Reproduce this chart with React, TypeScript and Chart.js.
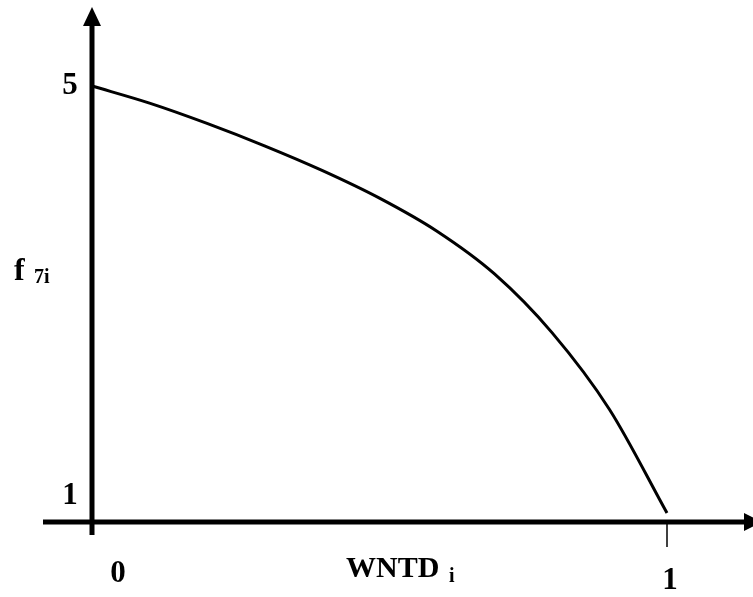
import React, { useEffect, useRef } from "react";
import { Chart, registerables } from "chart.js";

Chart.register(...registerables);

// Data
const wntd: number[] = [0, 0.1, 0.2, 0.3, 0.4, 0.5, 0.6, 0.7, 0.8, 0.9, 1];
const f7i: number[] = [5, 4.84, 4.65, 4.44, 4.21, 3.95, 3.64, 3.24, 2.69, 1.97, 1];
const xTickLabels: string[] = ["0", "1"];
const xTickValues: number[] = [0, 1];
const yTickLabels: string[] = ["5", "1"];
const yTickValues: number[] = [5, 1];
const xTitle = "WNTD";
const xTitleSub = "i";
const yTitle = "f";
const yTitleSub = "7i";

const Y_MIN = 0.916;
const Y_MAX = 5;

const axesPlugin = {
  id: "arrowAxes",
  afterDraw(chart: any) {
    const ctx: CanvasRenderingContext2D = chart.ctx;
    const xs = chart.scales.x;
    const ys = chart.scales.y;
    const ox = xs.getPixelForValue(0);
    const oy = ys.getPixelForValue(Y_MIN);
    ctx.save();
    ctx.strokeStyle = "#000";
    ctx.fillStyle = "#000";
    ctx.lineCap = "butt";
    // x axis
    ctx.lineWidth = 5;
    ctx.beginPath();
    ctx.moveTo(43, oy);
    ctx.lineTo(748, oy);
    ctx.stroke();
    ctx.beginPath();
    ctx.moveTo(762, oy);
    ctx.lineTo(744, oy - 9);
    ctx.lineTo(744, oy + 9);
    ctx.closePath();
    ctx.fill();
    // y axis
    ctx.beginPath();
    ctx.moveTo(ox, oy + 13);
    ctx.lineTo(ox, 20);
    ctx.stroke();
    ctx.beginPath();
    ctx.moveTo(ox, 7);
    ctx.lineTo(ox - 9, 26);
    ctx.lineTo(ox + 9, 26);
    ctx.closePath();
    ctx.fill();
    // tick at x = 1
    const x1 = xs.getPixelForValue(1);
    ctx.lineWidth = 1.5;
    ctx.beginPath();
    ctx.moveTo(x1, oy);
    ctx.lineTo(x1, oy + 25);
    ctx.stroke();

    ctx.textAlign = "center";
    ctx.textBaseline = "middle";
    ctx.font = "bold 31px 'Liberation Serif', 'Times New Roman', serif";
    // x tick labels
    const xOffsets = [26, 3];
    const yOff = [52, 59];
    xTickValues.forEach((v, i) => {
      ctx.fillText(xTickLabels[i], xs.getPixelForValue(v) + xOffsets[i], oy + yOff[i]);
    });
    // y tick labels
    const yOffsets = [0, -17];
    yTickValues.forEach((v, i) => {
      ctx.fillText(yTickLabels[i], ox - 22, ys.getPixelForValue(v) + yOffsets[i]);
    });
    // x title
    ctx.textAlign = "left";
    ctx.textBaseline = "alphabetic";
    ctx.font = "bold 30px 'Liberation Serif', 'Times New Roman', serif";
    ctx.fillText(xTitle, 346, 577);
    ctx.font = "bold 20px 'Liberation Serif', 'Times New Roman', serif";
    ctx.fillText(xTitleSub, 449, 582);
    // y title
    ctx.font = "bold 32px 'Liberation Serif', 'Times New Roman', serif";
    ctx.fillText(yTitle, 14, 280);
    ctx.font = "bold 20px 'Liberation Serif', 'Times New Roman', serif";
    ctx.fillText(yTitleSub, 34, 283);
    ctx.restore();
  },
};

export default function App() {
  const ref = useRef<HTMLCanvasElement | null>(null);
  useEffect(() => {
    if (!ref.current) return;
    const chart = new Chart(ref.current, {
      type: "scatter",
      data: {
        datasets: [
          {
            data: wntd.map((x, i) => ({ x, y: f7i[i] })),
            showLine: true,
            borderColor: "#000",
            borderWidth: 3,
            pointRadius: 0,
            cubicInterpolationMode: "monotone",
            clip: false as any,
          },
        ],
      },
      options: {
        responsive: false,
        animation: false,
        layout: { padding: { left: 92, right: 86, top: 86, bottom: 75 } },
        plugins: { legend: { display: false }, tooltip: { enabled: false } },
        scales: {
          x: { type: "linear", min: 0, max: 1, display: false },
          y: { type: "linear", min: Y_MIN, max: Y_MAX, display: false },
        },
      },
      plugins: [axesPlugin],
    });
    return () => chart.destroy();
  }, []);
  return (
    <div style={{ position: "fixed", left: 0, top: 0, width: 753, height: 597, background: "#fff" }}>
      <canvas ref={ref} width={753} height={597} style={{ width: 753, height: 597 }} />
    </div>
  );
}
